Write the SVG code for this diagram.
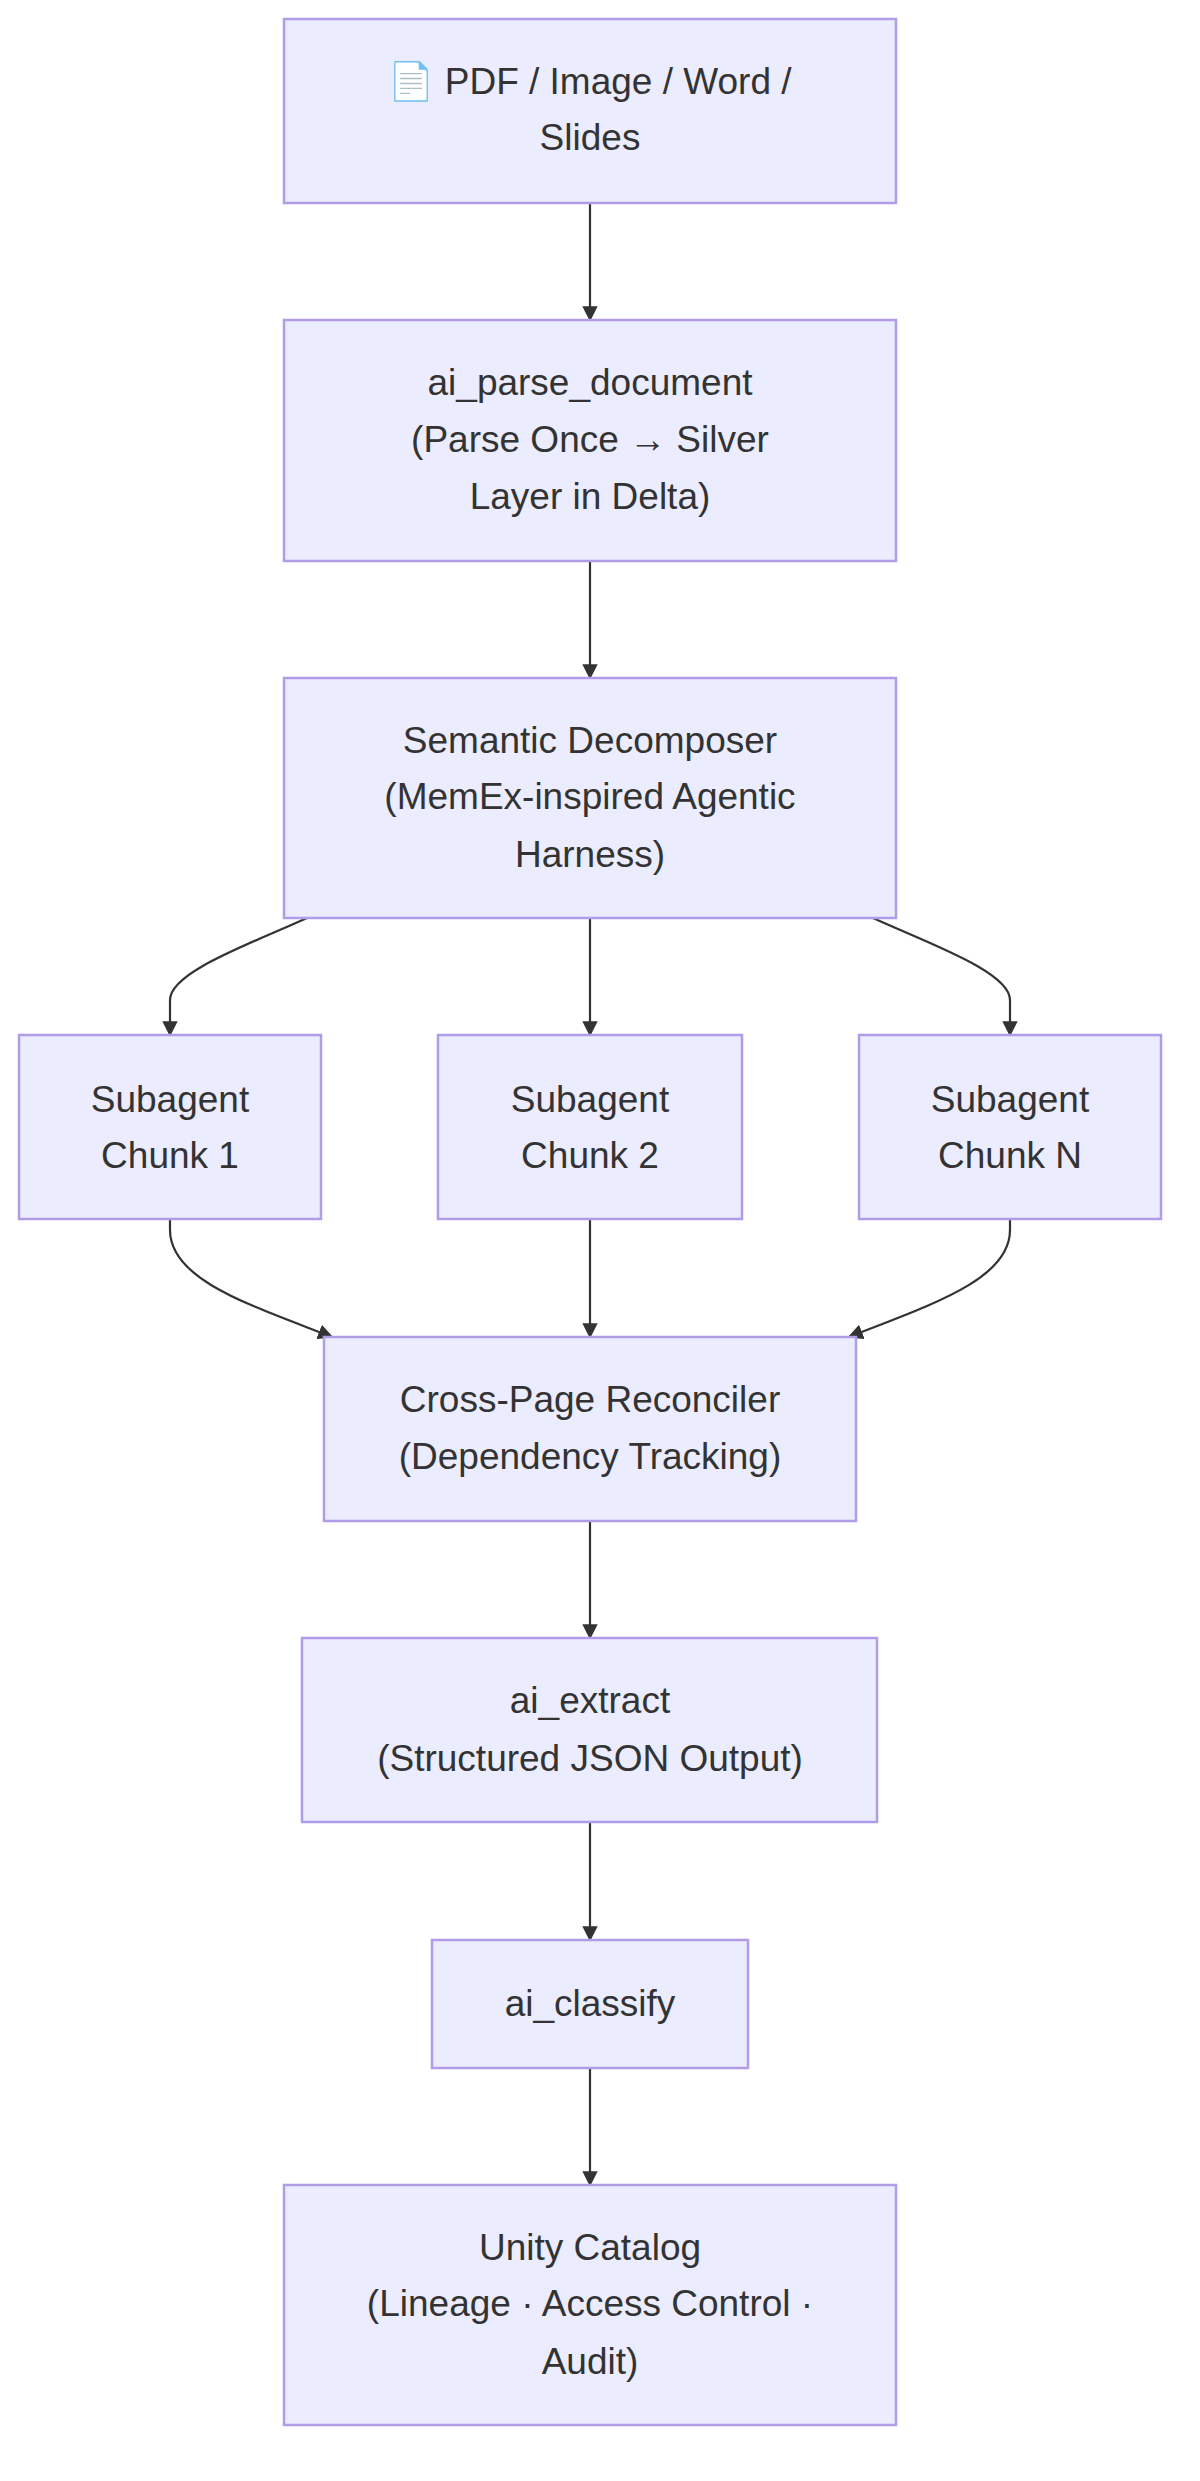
<svg xmlns="http://www.w3.org/2000/svg" width="1200" height="2481" viewBox="0 0 1200 2481">
<style>
.n rect{fill:#ECECFF;stroke:#B19CE8;stroke-width:2.5}
.n text{font-family:"Liberation Sans",Arial,sans-serif;font-size:37px;fill:#333;text-anchor:middle}
.e path{fill:none;stroke:#333;stroke-width:2.2}
</style>
<defs><marker id="a" viewBox="0 0 10 10" refX="9" refY="5" markerWidth="7" markerHeight="7" orient="auto-start-reverse"><path d="M0,0L10,5L0,10z" fill="#333"/></marker></defs>
<rect width="1200" height="2481" fill="#fff"/>
<g class="e">
<path d="M590,203V320" marker-end="url(#a)"/>
<path d="M590,561V678" marker-end="url(#a)"/>
<path d="M307,918C250,944 170,972 170,1000V1035" marker-end="url(#a)"/>
<path d="M590,918V1035" marker-end="url(#a)"/>
<path d="M873,918C930,944 1010,972 1010,1000V1035" marker-end="url(#a)"/>
<path d="M170,1219V1230C170,1280 250,1305 332,1337" marker-end="url(#a)"/>
<path d="M590,1219V1337" marker-end="url(#a)"/>
<path d="M1010,1219V1230C1010,1280 930,1305 849,1337" marker-end="url(#a)"/>
<path d="M590,1521V1638" marker-end="url(#a)"/>
<path d="M590,1822V1940" marker-end="url(#a)"/>
<path d="M590,2068V2185" marker-end="url(#a)"/>
</g>
<g id="n1" class="n"><rect x="284" y="19" width="612" height="184"/><text x="590" y="94">📄 PDF / Image / Word /</text><text x="590" y="150">Slides</text></g>
<g id="n2" class="n"><rect x="284" y="320" width="612" height="241"/><text x="590" y="395">ai_parse_document</text><text x="590" y="452">(Parse Once → Silver</text><text x="590" y="509">Layer in Delta)</text></g>
<g id="n3" class="n"><rect x="284" y="678" width="612" height="240"/><text x="590" y="753">Semantic Decomposer</text><text x="590" y="809">(MemEx-inspired Agentic</text><text x="590" y="867">Harness)</text></g>
<g id="s1" class="n"><rect x="19" y="1035" width="302" height="184"/><text x="170" y="1112">Subagent</text><text x="170" y="1168">Chunk 1</text></g>
<g id="s2" class="n"><rect x="438" y="1035" width="304" height="184"/><text x="590" y="1112">Subagent</text><text x="590" y="1168">Chunk 2</text></g>
<g id="sN" class="n"><rect x="859" y="1035" width="302" height="184"/><text x="1010" y="1112">Subagent</text><text x="1010" y="1168">Chunk N</text></g>
<g id="n4" class="n"><rect x="324" y="1337" width="532" height="184"/><text x="590" y="1412">Cross-Page Reconciler</text><text x="590" y="1469">(Dependency Tracking)</text></g>
<g id="n5" class="n"><rect x="302" y="1638" width="575" height="184"/><text x="590" y="1713">ai_extract</text><text x="590" y="1771">(Structured JSON Output)</text></g>
<g id="n6" class="n"><rect x="432" y="1940" width="316" height="128"/><text x="590" y="2016">ai_classify</text></g>
<g id="n7" class="n"><rect x="284" y="2185" width="612" height="240"/><text x="590" y="2260">Unity Catalog</text><text x="590" y="2316">(Lineage · Access Control ·</text><text x="590" y="2374">Audit)</text></g>
</svg>
